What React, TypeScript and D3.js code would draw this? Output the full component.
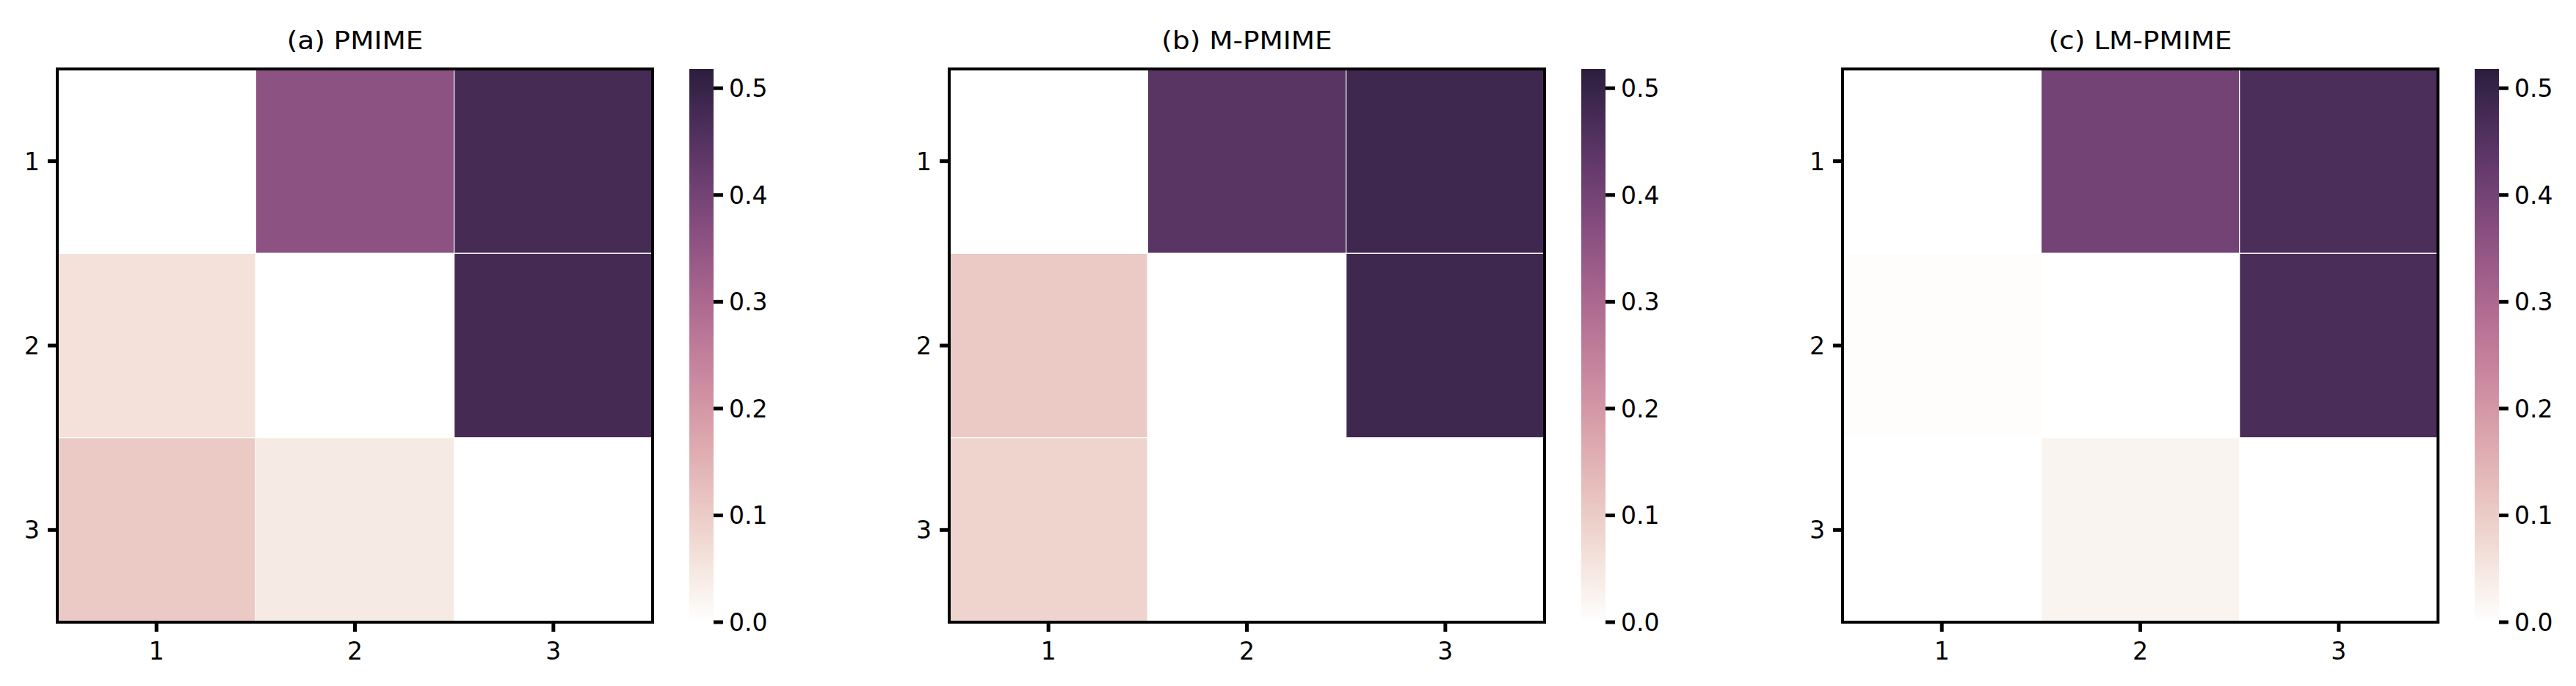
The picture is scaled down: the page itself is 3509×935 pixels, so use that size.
import React from "react";
import * as d3 from "d3";

// ---- data ----
const rowLabels = ["1", "2", "3"];
const colLabels = ["1", "2", "3"];
const titles = ["(a) PMIME", "(b) M-PMIME", "(c) LM-PMIME"];

const pmime = [
  [0.0, 0.36, 0.475],
  [0.061, 0.0, 0.476],
  [0.104, 0.043, 0.0],
];
const mPmime = [
  [0.0, 0.445, 0.487],
  [0.107, 0.0, 0.487],
  [0.085, 0.0, 0.0],
];
const lmPmime = [
  [0.0, 0.4, 0.466],
  [0.006, 0.0, 0.469],
  [0.0, 0.024, 0.0],
];
const matrices = [pmime, mPmime, lmPmime];
const colorTicks = [0.0, 0.1, 0.2, 0.3, 0.4, 0.5];
const vmin = 0;
const vmax = 0.518;

// ---- seaborn cubehelix_palette(light=1, as_cmap=True) ----
function cubehelix(x: number): [number, number, number] {
  const start = 0, rot = 0.4, gamma = 1.0, hue = 0.8;
  const xg = Math.pow(x, gamma);
  const a = (hue * xg * (1 - xg)) / 2;
  const phi = 2 * Math.PI * (start / 3 + rot * x);
  const ch = (p0: number, p1: number) =>
    Math.min(1, Math.max(0, xg + a * (p0 * Math.cos(phi) + p1 * Math.sin(phi))));
  return [ch(-0.14861, 1.78277), ch(-0.29227, -0.90649), ch(1.97294, 0.0)];
}
const LIGHT = 1.0, DARK = 0.15, N = 256;
const lut = d3.range(N).map((i) => {
  const x = LIGHT + ((DARK - LIGHT) * i) / (N - 1);
  const [r, g, b] = cubehelix(x);
  return d3.rgb(Math.round(r * 255), Math.round(g * 255), Math.round(b * 255)).formatHex();
});
const interp = (t: number) => lut[Math.max(0, Math.min(N - 1, Math.floor(t * N)))];

// ---- layout ----
const W = 3509, H = 935;
const panelLefts = [78, 1293, 2510];
const axTop = 94, axW = 811, axH = 754;
const cbOffset = 861, cbW = 33;
const FONT = "'DejaVu Sans', sans-serif";
const fs = 33;

function Panel({ idx }: { idx: number }) {
  const left = panelLefts[idx];
  const data = matrices[idx];
  const x = d3.scaleBand<string>().domain(colLabels).range([left, left + axW]);
  const y = d3.scaleBand<string>().domain(rowLabels).range([axTop, axTop + axH]);
  const color = d3.scaleSequential(interp).domain([vmin, vmax]).clamp(true);
  const cbX = left + cbOffset;
  const cbY = d3.scaleLinear().domain([vmin, vmax]).range([axTop + axH, axTop]);
  const gradId = `cbgrad${idx}`;
  const stops = d3.range(0, 257).map((i) => i / 256);
  const cx = left + axW / 2;
  return (
    <g>
      <defs>
        <linearGradient id={gradId} x1="0" y1="1" x2="0" y2="0">
          {stops.map((s, i) => (
            <stop key={i} offset={s} stopColor={interp(Math.min(s, 0.9999))} />
          ))}
        </linearGradient>
      </defs>
      {/* cells */}
      {data.map((row, ri) =>
        row.map((v, ci) => (
          <rect
            key={`${ri}-${ci}`}
            x={x(colLabels[ci])!}
            y={y(rowLabels[ri])!}
            width={x.bandwidth()}
            height={y.bandwidth()}
            fill={color(v)}
            stroke="#ffffff"
            strokeWidth={1.2}
          />
        ))
      )}
      {/* frame */}
      <rect x={left} y={axTop} width={axW} height={axH} fill="none" stroke="#000" strokeWidth={4} />
      {/* y ticks */}
      {rowLabels.map((r) => {
        const yy = y(r)! + y.bandwidth() / 2;
        return (
          <g key={`y${r}`}>
            <line x1={left - 13} x2={left} y1={yy} y2={yy} stroke="#000" strokeWidth={5} />
            <text x={left - 24} y={yy + 12} textAnchor="end" fontFamily={FONT} fontSize={fs}>
              {r}
            </text>
          </g>
        );
      })}
      {/* x ticks */}
      {colLabels.map((c) => {
        const xx = x(c)! + x.bandwidth() / 2;
        return (
          <g key={`x${c}`}>
            <line x1={xx} x2={xx} y1={axTop + axH} y2={axTop + axH + 13} stroke="#000" strokeWidth={5} />
            <text x={xx} y={899} textAnchor="middle" fontFamily={FONT} fontSize={fs}>
              {c}
            </text>
          </g>
        );
      })}
      {/* title */}
      <text
        transform={`translate(${cx},67) scale(1.1,1)`}
        textAnchor="middle"
        fontFamily={FONT}
        fontSize={34}
      >
        {titles[idx]}
      </text>
      {/* colorbar */}
      <rect x={cbX} y={axTop} width={cbW} height={axH} fill={`url(#${gradId})`} />
      {colorTicks.map((t) => {
        const yy = cbY(t);
        return (
          <g key={`c${t}`}>
            <line x1={cbX + cbW} x2={cbX + cbW + 13} y1={yy} y2={yy} stroke="#000" strokeWidth={5} />
            <text x={cbX + cbW + 21} y={yy + 12} fontFamily={FONT} fontSize={fs}>
              {t.toFixed(1)}
            </text>
          </g>
        );
      })}
    </g>
  );
}

export default function App() {
  return (
    <svg
      width={W}
      height={H}
      viewBox={`0 0 ${W} ${H}`}
      style={{ position: "absolute", left: 0, top: 0, background: "#fff" }}
    >
      <rect x={0} y={0} width={W} height={H} fill="#fff" />
      {titles.map((_, i) => (
        <Panel key={i} idx={i} />
      ))}
    </svg>
  );
}
